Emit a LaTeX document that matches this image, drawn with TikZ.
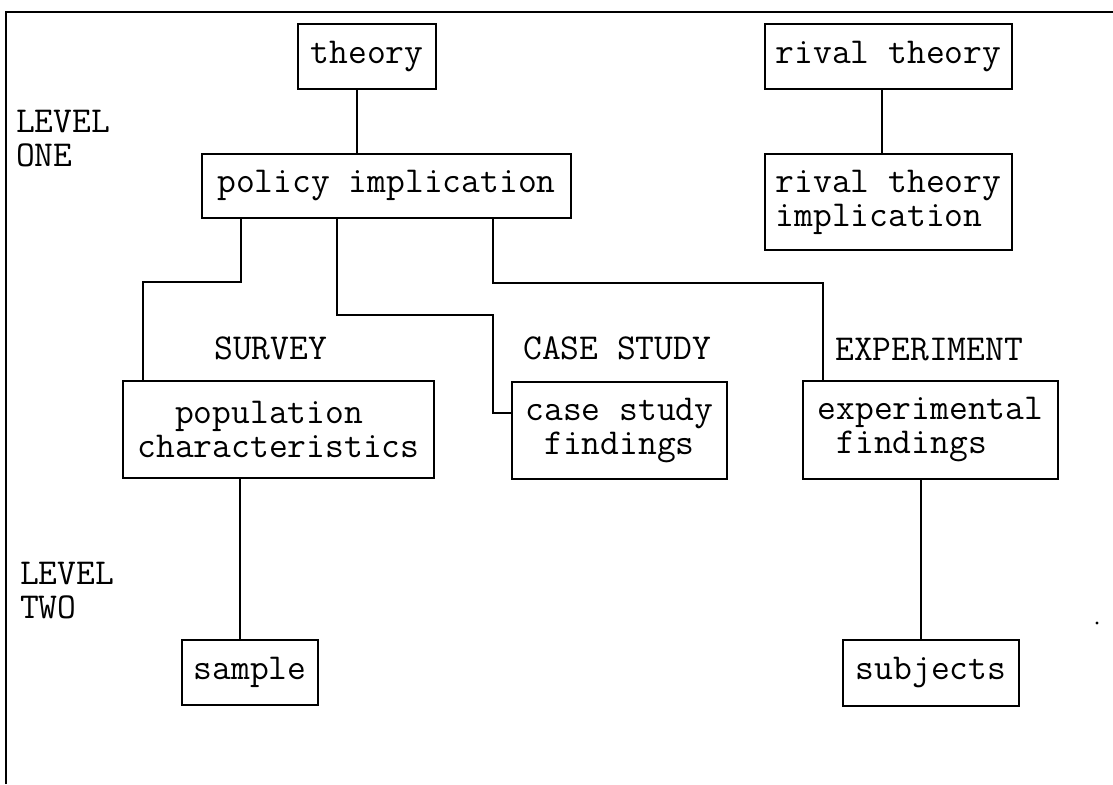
\documentclass[tikz,border=0pt]{standalone}
\usepackage{fontspec}
\begin{document}
\begin{tikzpicture}[x=1pt,y=-1pt,
  box/.style={draw, line width=2pt, inner sep=0pt, align=left, font=\ttfamily\fontsize{36.5}{34}\selectfont},
  lbl/.style={inner sep=0pt, anchor=base west, align=left, font=\ttfamily\fontsize{36.5}{34}\selectfont},
  conn/.style={line width=2pt}]
\useasboundingbox (0,0) rectangle (1113,784);
% frame (left and top edges only)
\coordinate (fa) at (6,784);
\coordinate (fb) at (6,12);
\coordinate (fc) at (1113,12);
\draw[conn] (fa) -- (fb) -- (fc);
% boxes
\node[box, minimum width=138pt, minimum height=65pt] (theory) at (367,56.5) {theory};
\node[box, minimum width=247pt, minimum height=65pt] (rival) at (888.5,56.5) {rival theory};
\node[box, minimum width=369pt, minimum height=64pt] (policy) at (386.5,186) {policy implication};
\node[box, minimum width=247pt, minimum height=96pt] (rivalimp) at (888.5,202) {rival theory\\implication};
\node[box, minimum width=311pt, minimum height=97pt] (pop) at (278.5,429.5) {\hphantom{xx}population\\characteristics};
\node[box, minimum width=215pt, minimum height=97pt] (case) at (619.5,430.5) {case study\\\hphantom{x}findings};
\node[box, minimum width=255pt, minimum height=98pt] (exp) at (930.5,430) {experimental\\\hphantom{x}findings};
\node[box, minimum width=136pt, minimum height=65pt] (sample) at (250,672.5) {sample};
\node[box, minimum width=176pt, minimum height=66pt] (subjects) at (931,673) {subjects};
% labels (base anchor = baseline of last line)
\node[lbl] (lev1) at (16,166) {LEVEL\\ONE};
\node[lbl] (lev2) at (20,618) {LEVEL\\TWO};
\node[lbl] (survey) at (214,359) {SURVEY};
\node[lbl] (casel) at (523,359) {CASE STUDY};
\node[lbl] (expl) at (835,360) {EXPERIMENT};
% connectors
\coordinate (a) at (357,0);
\draw[conn] (a |- theory.south) -- (a |- policy.north);
\coordinate (b) at (882,0);
\draw[conn] (b |- rival.south) -- (b |- rivalimp.north);
\coordinate (c1) at (241,282);
\coordinate (c2) at (143,282);
\draw[conn] (c1 |- policy.south) -- (c1) -- (c2) -- (c2 |- pop.north);
\coordinate (d1) at (337,315);
\coordinate (d2) at (493,315);
\coordinate (d3) at (493,413);
\draw[conn] (d1 |- policy.south) -- (d1) -- (d2) -- (d3) -- (d3 -| case.west);
\coordinate (e1) at (493,283);
\coordinate (e2) at (823,283);
\draw[conn] (e1 |- policy.south) -- (e1) -- (e2) -- (e2 |- exp.north);
\coordinate (f) at (240,0);
\draw[conn] (f |- pop.south) -- (f |- sample.north);
\coordinate (g) at (921,0);
\draw[conn] (g |- exp.south) -- (g |- subjects.north);
\fill (1097,623) circle (1.6pt);
\end{tikzpicture}
\end{document}
